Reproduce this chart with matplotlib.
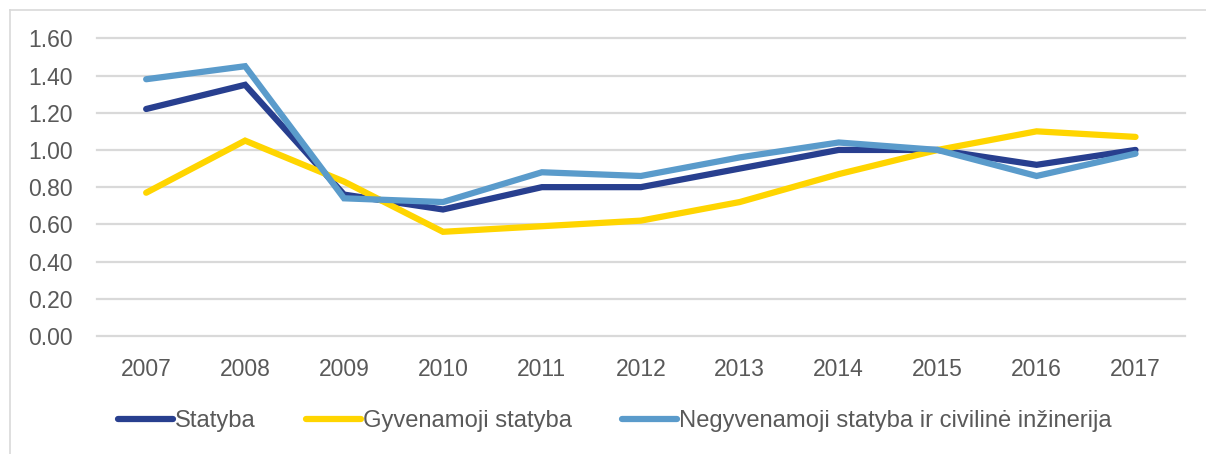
import matplotlib
matplotlib.use("Agg")
import matplotlib.pyplot as plt
from matplotlib.lines import Line2D

years = ["2007", "2008", "2009", "2010", "2011", "2012", "2013", "2014", "2015", "2016", "2017"]
statyba = [1.22, 1.35, 0.76, 0.68, 0.80, 0.80, 0.90, 1.00, 1.00, 0.92, 1.00]
gyvenamoji = [0.77, 1.05, 0.83, 0.56, 0.59, 0.62, 0.72, 0.87, 1.00, 1.10, 1.07]
negyvenamoji = [1.38, 1.45, 0.74, 0.72, 0.88, 0.86, 0.96, 1.04, 1.00, 0.86, 0.98]
labels = ["Statyba", "Gyvenamoji statyba", "Negyvenamoji statyba ir civilinė inžinerija"]
colors = ["#283F8F", "#FFD500", "#5A9BCB"]
yticks = [0.0, 0.2, 0.4, 0.6, 0.8, 1.0, 1.2, 1.4, 1.6]

W, H = 1206, 454
plt.rcParams['font.family'] = ['Liberation Sans', 'DejaVu Sans']
fig = plt.figure(figsize=(W / 100, H / 100), dpi=100)

# frame (top and left edges visible)
fig.add_artist(Line2D([10 / W, 1], [1 - 10 / H, 1 - 10 / H], color="#d9d9d9", lw=1.2, transform=fig.transFigure))
fig.add_artist(Line2D([10 / W, 10 / W], [0, 1 - 10 / H], color="#d9d9d9", lw=1.2, transform=fig.transFigure))

left, right = 96.7, 1185.0
top, bottom = 38.3, 336.0
ax = fig.add_axes([left / W, 1 - bottom / H, (right - left) / W, (bottom - top) / H])
ax.set_xlim(-0.5, len(years) - 0.5)
ax.set_ylim(0, 1.6)
for s in ax.spines.values():
    s.set_visible(False)
for v in yticks:
    ax.axhline(v, color="#d9d9d9", lw=1.6, zorder=0, clip_on=False)

x = list(range(len(years)))
for data, c, lab in zip([statyba, gyvenamoji, negyvenamoji], colors, labels):
    ax.plot(x, data, color=c, lw=4.5, solid_capstyle="round", solid_joinstyle="miter", label=lab, zorder=3, clip_on=False)

ax.set_yticks(yticks)
ax.set_yticklabels([f"{v:.2f}" for v in yticks])
ax.set_xticks(x)
ax.set_xticklabels(years)
ax.tick_params(axis="both", length=0, labelsize=16.5, labelcolor="#595959")
ax.tick_params(axis="y", pad=17)
ax.tick_params(axis="x", pad=16)

handles = [Line2D([0], [0], color=c, lw=4.5, solid_capstyle="round") for c in colors]
fig.legend(handles, labels, loc="center left", bbox_to_anchor=(118 / W, 1 - 421 / H),
           ncol=3, frameon=False, fontsize=17.1, labelcolor="#595959",
           handlelength=2.33, handletextpad=0.08, columnspacing=2.1,
           borderpad=0, borderaxespad=0)

fig.savefig("out.png", dpi=100, facecolor="white")
